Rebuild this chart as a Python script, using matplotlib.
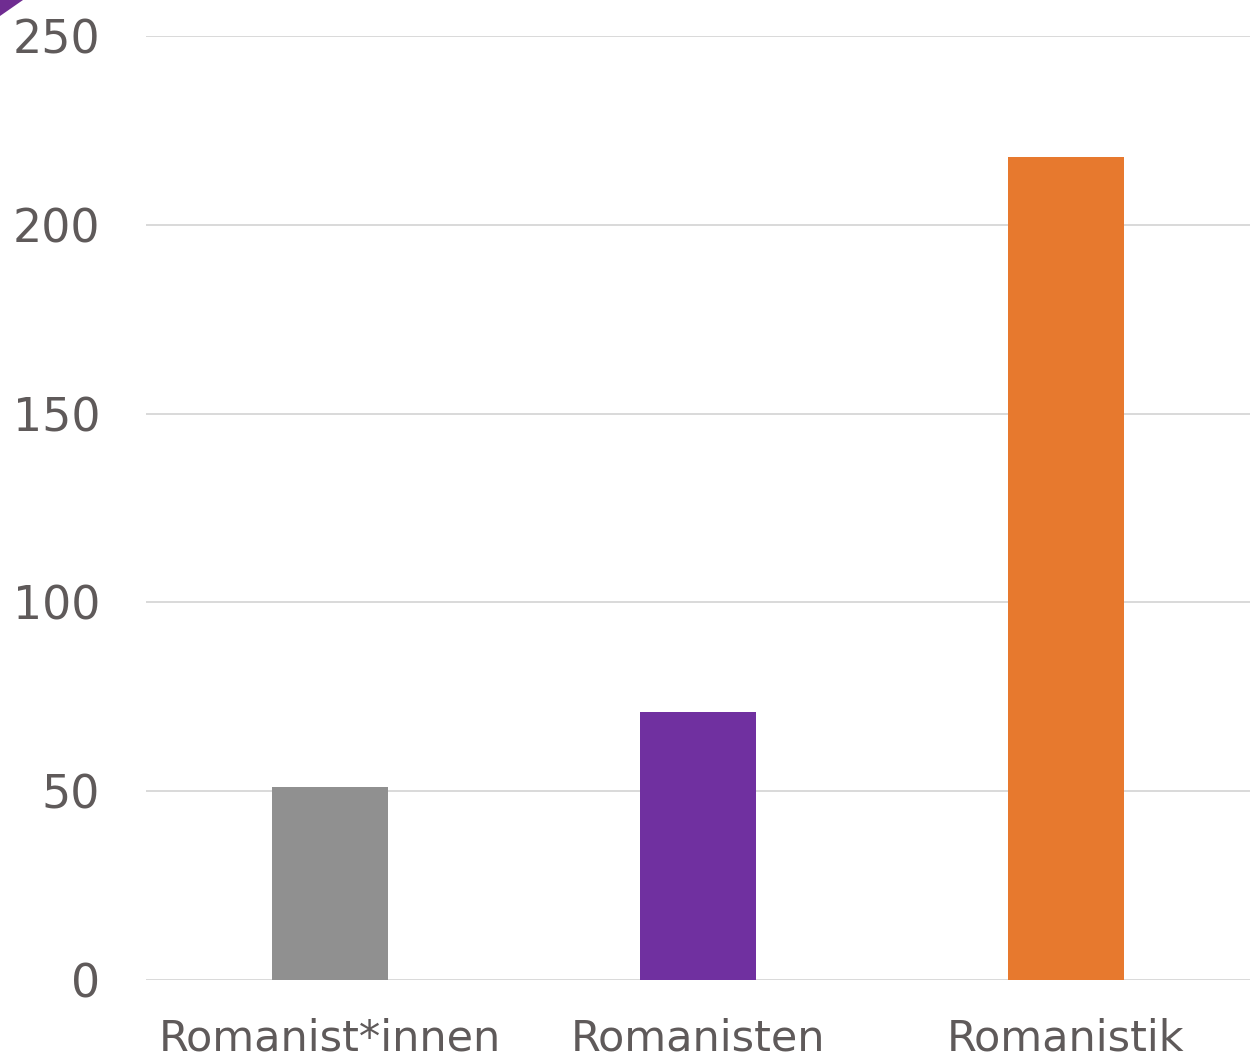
import matplotlib
matplotlib.use("Agg")
import matplotlib.pyplot as plt
from matplotlib.patches import Polygon

categories = ["Romanist*innen", "Romanisten", "Romanistik"]
values = [51, 71, 218]
colors = ["#909090", "#7030a0", "#e7792e"]
yticks = [0, 50, 100, 150, 200, 250]

W, H = 1257, 1057
fig = plt.figure(figsize=(W / 100, H / 100), dpi=100)
ax = fig.add_axes([146 / W, 1 - 980 / H, 1104 / W, 944 / H])

ax.bar(range(len(categories)), values, width=0.315, color=colors, zorder=3)
ax.set_xlim(-0.5, 2.5)
ax.set_ylim(0, 250)
ax.set_yticks(yticks)
ax.set_xticks(range(len(categories)))
ax.set_xticklabels(categories)
ax.grid(axis="y", color="#d9d9d9", linewidth=1.4, zorder=0)
ax.set_axisbelow(True)
for s in ax.spines.values():
    s.set_visible(False)
ax.tick_params(axis="both", length=0, labelcolor="#5f5a5a")
ax.tick_params(axis="y", pad=33, labelsize=33)
ax.tick_params(axis="x", pad=27, labelsize=31)

# corner decoration
fig.patches.append(Polygon([[0, 1], [23 / W, 1], [0, 1 - 16 / H]], closed=True,
                           transform=fig.transFigure, facecolor="#6f2c91",
                           edgecolor="none", zorder=5))

fig.savefig("out.png", dpi=100)
